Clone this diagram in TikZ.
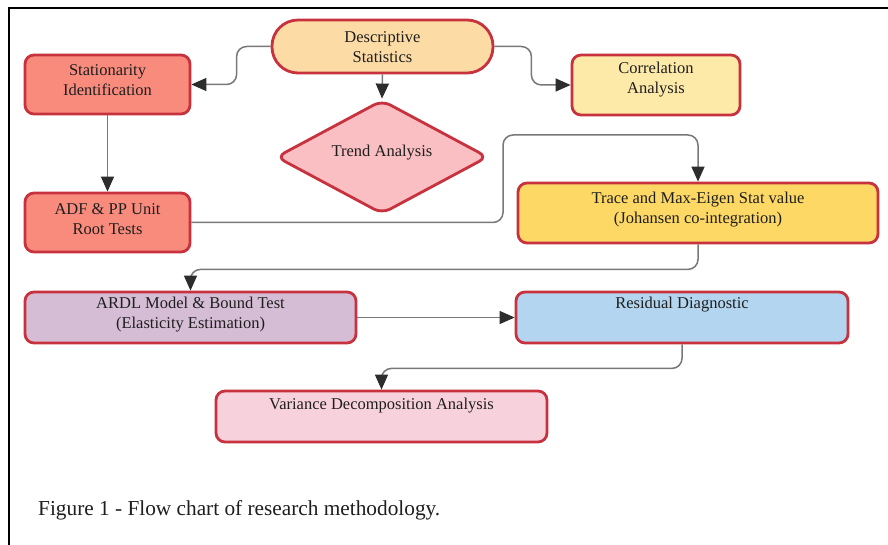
\documentclass[tikz,border=0pt]{standalone}
\usepackage{fontspec}
\setmainfont{Liberation Serif}
\usetikzlibrary{arrows.meta,shapes.geometric,calc}
\definecolor{bred}{RGB}{200,50,62}
\definecolor{fdesc}{RGB}{252,219,165}
\definecolor{fstat}{RGB}{249,139,125}
\definecolor{fcorr}{RGB}{254,234,168}
\definecolor{ftrend}{RGB}{249,191,194}
\definecolor{ftrace}{RGB}{253,216,101}
\definecolor{fardl}{RGB}{214,189,214}
\definecolor{fresid}{RGB}{179,213,239}
\definecolor{fvar}{RGB}{247,210,221}
\definecolor{connc}{RGB}{120,120,120}
\definecolor{tipc}{RGB}{45,45,45}
\definecolor{txtc}{RGB}{30,30,30}
\tikzset{
  box/.style={draw=bred, line width=2.8pt, rounded corners=9pt, inner sep=0pt},
  boxtext/.style={inner sep=0pt, align=center, text=txtc, font=\fontsize{16.5}{20}\selectfont},
  conn/.style={draw=connc, line width=1.5pt, rounded corners=10pt,
    -{Triangle[length=15pt,width=13pt,color=tipc]}},
}
\begin{document}
\begin{tikzpicture}[x=1pt,y=-1pt]
\useasboundingbox (0,0) rectangle (888,545);
\fill[white] (0,0) rectangle (888,545);
\draw[black, line width=1.5pt] (9,545) -- (9,8) -- (888,8);

\node[box, fill=fdesc, rounded corners=26pt, minimum width=221pt, minimum height=53pt]
  (desc) at (382.5,46.5) {};
\node[boxtext] (desct) at (382.5,47) {Descriptive\\Statistics};
\node[box, fill=fstat, minimum width=165pt, minimum height=59pt]
  (stat) at (107.5,84.5) {};
\node[boxtext] (statt) at (107.5,80) {Stationarity\\Identification};
\node[box, fill=fcorr, minimum width=168pt, minimum height=60pt]
  (corr) at (656,85) {};
\node[boxtext] (corrt) at (656,79.5) {Correlation\\Analysis};
\node[draw=bred, line width=2.8pt, fill=ftrend, diamond, rounded corners=9pt, inner sep=0pt,
  minimum width=212pt, minimum height=114pt, aspect=1.86]
  (trend) at (382,157) {};
\node[boxtext] (trendt) at (382,153) {Trend Analysis};
\node[box, fill=fstat, minimum width=165pt, minimum height=59pt]
  (adf) at (107.5,222.5) {};
\node[boxtext] (adft) at (107.5,219) {ADF \& PP Unit\\Root Tests};
\node[box, fill=ftrace, minimum width=360pt, minimum height=60pt]
  (trace) at (698,213) {};
\node[boxtext] (tracet) at (698,210) {Trace and Max-Eigen Stat value\\(Johansen co-integration)};
\node[box, fill=fardl, minimum width=331pt, minimum height=51pt]
  (ardl) at (190.5,317.5) {};
\node[boxtext] (ardlt) at (190.5,314.5) {ARDL Model \& Bound Test\\(Elasticity Estimation)};
\node[box, fill=fresid, minimum width=332pt, minimum height=51pt]
  (resid) at (682,317.5) {};
\node[boxtext] (residt) at (682,305) {Residual Diagnostic};
\node[box, fill=fvar, minimum width=331pt, minimum height=51pt]
  (var) at (381.5,416.5) {};
\node[boxtext] (vart) at (381.5,406) {Variance Decomposition Analysis};

\node[anchor=base west, inner sep=0pt, text=txtc, font=\fontsize{21.3}{25}\selectfont]
  (cap) at (38,515) {Figure 1 - Flow chart of research methodology.};

\coordinate (k1) at (503,135);
\draw[conn] (desc.west) -- ++(-34,0) |- (stat.east);
\draw[conn] (desc.east) -- ++(37,0) |- (corr.west);
\draw[conn] (desc.south) -- (trend.north);
\draw[conn] (stat.south) -- (adf.north);
\draw[conn] (adf.east) -| (k1) -| (trace.north);
\draw[conn] (trace.south) -- ++(0,25) -| (ardl.north);
\draw[conn] (ardl.east) -- (resid.west);
\draw[conn] (resid.south) -- ++(0,24) -| (var.north);
\end{tikzpicture}
\end{document}
